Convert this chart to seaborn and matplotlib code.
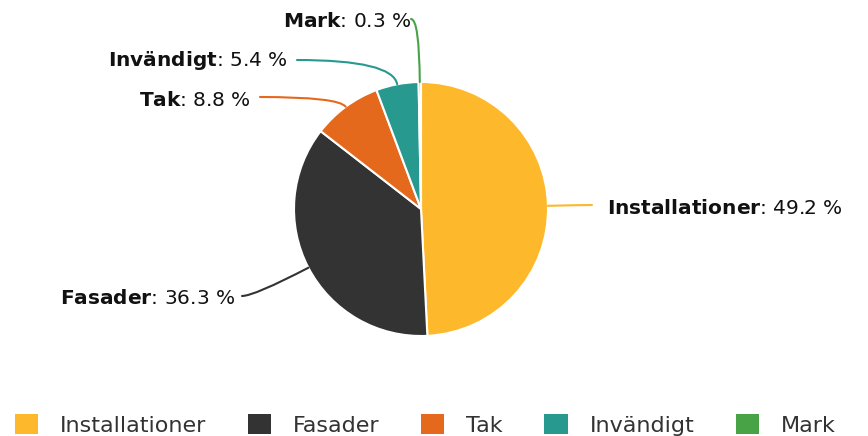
import numpy as np
import seaborn as sns
import matplotlib.pyplot as plt
from matplotlib.patches import Patch

categories = ["Installationer", "Fasader", "Tak", "Invändigt", "Mark"]
shares = [49.2, 36.3, 8.8, 5.4, 0.3]
colors = ["#FDB82B", "#333333", "#E5691D", "#27998F", "#47A346"]

sns.set_theme(style="white")
palette = sns.color_palette(colors)
plt.rcParams["font.family"] = ["DejaVu Sans"]
plt.rcParams["mathtext.fontset"] = "custom"
plt.rcParams["mathtext.rm"] = "DejaVu Sans"
plt.rcParams["mathtext.bf"] = "DejaVu Sans:bold"

W, H = 868, 436
fig = plt.figure(figsize=(W / 100, H / 100), dpi=100)
ax = fig.add_axes([0, 0, 1, 1])

cx, cy, r = 421, H - 209, 127
wedges, _ = ax.pie(shares, colors=palette, startangle=90, counterclock=False,
                   center=(cx, cy), radius=r, frame=True,
                   wedgeprops=dict(edgecolor="white", linewidth=1.5))
ax.set_xlim(0, W)
ax.set_ylim(0, H)
ax.set_aspect("equal")
ax.axis("off")

# label anchor (px from top-left), alignment, connector end
label_pos = {
    "Installationer": (607, 209, "left", (592, 205)),
    "Fasader": (235, 299, "right", (242, 296)),
    "Tak": (251, 101, "right", (260, 97)),
    "Invändigt": (288, 61, "right", (297, 60)),
    "Mark": (411, 22, "right", (411, 19)),
}

for w, name, val, col in zip(wedges, categories, shares, palette):
    tx, ty, ha, (ex, ey) = label_pos[name]
    mid = np.deg2rad((w.theta1 + w.theta2) / 2)
    px, py = cx + r * np.cos(mid), cy + r * np.sin(mid)
    ax.text(tx, H - ty, rf"$\bf{{{name}}}$: {val} %", ha=ha, va="center",
            fontsize=14.5, color="#111111")
    ang = np.rad2deg(mid)
    ax.annotate("", xy=(px, py), xytext=(ex, H - ey),
                arrowprops=dict(arrowstyle="-", color=col, lw=1.5,
                                connectionstyle=f"angle3,angleA=0,angleB={ang:.1f}",
                                shrinkA=0, shrinkB=0))

handles = [Patch(facecolor=c, edgecolor="none") for c in palette]
fig.legend(handles, categories, loc="lower center", ncol=5, frameon=False,
           fontsize=16, handlelength=1.05, handleheight=1.05, handletextpad=1.0,
           columnspacing=1.85, bbox_to_anchor=(0.49, -0.045), labelcolor="#333333")

fig.savefig("out.png", dpi=100)
